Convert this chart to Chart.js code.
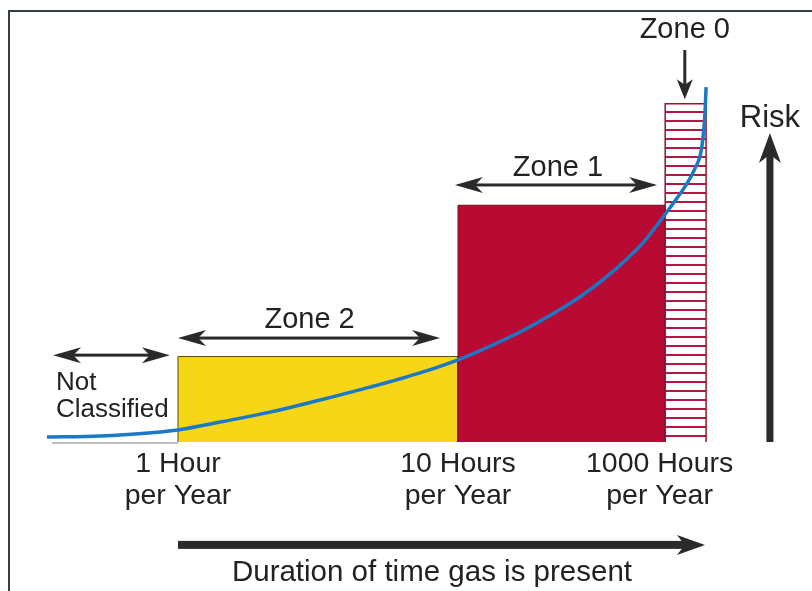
<!DOCTYPE html>
<html>
<head>
<meta charset="utf-8">
<script src="https://cdn.jsdelivr.net/npm/chart.js@4/dist/chart.umd.min.js"></script>
<style>
  html, body { margin: 0; padding: 0; background: #fff; }
  canvas { display: block; }
</style>
</head>
<body>
<canvas id="zoneChart" width="812" height="591"></canvas>
<script>
// x: duration position (1 Hour = 0, 10 Hours = 1), y: relative risk (0-100)
const tickValues = [0, 1, 1.72];
const tickLabels = [['1 Hour', 'per Year'], ['10 Hours', 'per Year'], ['1000 Hours', 'per Year']];

const zoneNames = ['Zone 2', 'Zone 1', 'Zone 0'];
const zoneStart = [0, 1, 1.74];
const zoneEnd = [1, 1.74, 1.886];
const zoneRisk = [24, 66.5, 95];

const curveX = [-0.468, -0.279, 0, 0.15, 0.329, 0.507, 0.686, 0.864, 1.007, 1.114, 1.232, 1.364, 1.436, 1.518, 1.604, 1.661, 1.721, 1.757, 1.811, 1.846, 1.871, 1.882, 1.886];
const curveY = [1.4, 1.7, 3.4, 5.6, 8.4, 11.8, 15.4, 19.4, 23.3, 26.9, 31.3, 37.2, 40.8, 45.6, 51.5, 56.0, 62.0, 65.8, 71.8, 76.8, 83.0, 92.4, 99.7];

const FAMILY = '"Liberation Sans", Arial, sans-serif';
const INK = '#2a2a2a';

// striped fill for zone 0
function stripePattern() {
  var c = document.createElement('canvas');
  c.width = 4; c.height = 9;
  var g = c.getContext('2d');
  g.fillStyle = '#ffffff';
  g.fillRect(0, 0, 4, 9);
  g.fillStyle = '#b3163e';
  g.fillRect(0, 3, 4, 2);
  return g.createPattern(c, 'repeat');
}

function rect(i) {
  return [
    { x: zoneStart[i], y: 0 },
    { x: zoneStart[i], y: zoneRisk[i] },
    { x: zoneEnd[i], y: zoneRisk[i] },
    { x: zoneEnd[i], y: 0 }
  ];
}

// arrow with swept-back head(s)
function arrow(ctx, x1, y1, x2, y2, w, len, half, both) {
  var a = Math.atan2(y2 - y1, x2 - x1);
  var d = Math.hypot(x2 - x1, y2 - y1);
  ctx.save();
  ctx.translate(x1, y1);
  ctx.rotate(a);
  ctx.fillStyle = INK;
  var s0 = both ? len * 0.7 : 0;
  ctx.fillRect(s0, -w / 2, d - s0 - len * 0.7, w);
  function head(tip, dir) {
    ctx.beginPath();
    ctx.moveTo(tip, 0);
    ctx.lineTo(tip - dir * len, -half);
    ctx.lineTo(tip - dir * len * 0.72, 0);
    ctx.lineTo(tip - dir * len, half);
    ctx.closePath();
    ctx.fill();
  }
  head(d, 1);
  if (both) head(0, -1);
  ctx.restore();
}

const decorations = {
  id: 'decorations',
  beforeDraw(chart) {
    var ctx = chart.ctx;
    ctx.save();
    ctx.strokeStyle = '#33403c';
    ctx.lineWidth = 2;
    ctx.beginPath();
    ctx.moveTo(9, 600);
    ctx.lineTo(9, 11);
    ctx.lineTo(820, 11);
    ctx.stroke();
    // faint baseline under not classified area
    var xs = chart.scales.x, ys = chart.scales.y;
    ctx.strokeStyle = '#a9a9a9';
    ctx.lineWidth = 1.5;
    ctx.beginPath();
    ctx.moveTo(xs.getPixelForValue(-0.45), ys.getPixelForValue(0) + 1);
    ctx.lineTo(xs.getPixelForValue(0), ys.getPixelForValue(0) + 1);
    ctx.stroke();
    ctx.restore();
  },
  afterDatasetsDraw(chart) {
    var ctx = chart.ctx;
    var xs = chart.scales.x, ys = chart.scales.y;
    var X = v => xs.getPixelForValue(v);
    var Y = v => ys.getPixelForValue(v);
    ctx.save();
    ctx.fillStyle = '#222';
    ctx.textBaseline = 'middle';
    ctx.textAlign = 'center';

    // tick labels
    ctx.font = '28.5px ' + FAMILY;
    tickValues.forEach(function (v, i) {
      ctx.fillText(tickLabels[i][0], X(v), Y(-6.2));
      ctx.fillText(tickLabels[i][1], X(v), Y(-15.3));
    });

    // zone labels and spans
    ctx.font = '29px ' + FAMILY;
    ctx.fillText(zoneNames[0], X(0.47), Y(34.3));
    arrow(ctx, X(zoneStart[0]), Y(29.2), X(0.936), Y(29.2), 3, 28, 8, true);
    ctx.fillText(zoneNames[1], X(1.357), Y(77));
    arrow(ctx, X(0.989), Y(72.2), X(1.711), Y(72.2), 3, 28, 8, true);
    ctx.fillText(zoneNames[2], X(1.81), Y(115.7));
    arrow(ctx, X(1.81), Y(110.1), X(1.81), Y(96.3), 3, 20, 8, false);

    // not classified
    arrow(ctx, X(-0.446), Y(24.4), X(-0.029), Y(24.4), 3, 28, 8, true);
    ctx.font = '26px ' + FAMILY;
    ctx.textAlign = 'left';
    ctx.fillText('Not', X(-0.436), Y(16.6));
    ctx.fillText('Classified', X(-0.436), Y(9.0));

    // risk axis
    ctx.textAlign = 'center';
    ctx.font = '31px ' + FAMILY;
    ctx.fillText('Risk', X(2.114), Y(91));
    arrow(ctx, X(2.114), Y(0), X(2.114), Y(86.8), 7, 30, 11, false);

    // duration axis
    arrow(ctx, X(0), Y(-28.9), X(1.882), Y(-28.9), 8, 28, 10, false);
    ctx.font = '29.5px ' + FAMILY;
    ctx.fillText('Duration of time gas is present', X(0.907), Y(-36.8));
    ctx.restore();
  }
};

var ctx = document.getElementById('zoneChart').getContext('2d');
var zoneChart = new Chart(ctx, {
  type: 'line',
  data: {
    datasets: [
      {
        label: 'Risk',
        data: curveX.map((x, i) => ({ x: x, y: curveY[i] })),
        borderColor: '#1b78c6',
        borderWidth: 3.5,
        cubicInterpolationMode: 'monotone',
        pointRadius: 0,
        fill: false,
        clip: false
      },
      {
        label: zoneNames[2],
        data: rect(2),
        borderColor: '#8a1a30',
        borderWidth: 1.5,
        backgroundColor: stripePattern(),
        fill: 'origin',
        pointRadius: 0,
        tension: 0
      },
      {
        label: zoneNames[1],
        data: rect(1),
        borderColor: '#7a0620',
        borderWidth: 1,
        backgroundColor: '#b80a33',
        fill: 'origin',
        pointRadius: 0,
        tension: 0
      },
      {
        label: zoneNames[0],
        data: rect(0),
        borderColor: '#5c4c0e',
        borderWidth: 1,
        backgroundColor: '#f6d616',
        fill: 'origin',
        pointRadius: 0,
        tension: 0
      }
    ]
  },
  options: {
    responsive: false,
    animation: false,
    devicePixelRatio: 1,
    layout: { padding: { left: 38, right: 74, top: 86, bottom: 149 } },
    scales: {
      x: { type: 'linear', min: -0.5, max: 2.0, display: false },
      y: { min: 0, max: 100, display: false }
    },
    plugins: {
      legend: { display: false },
      tooltip: { enabled: false }
    }
  },
  plugins: [decorations]
});
</script>
</body>
</html>
